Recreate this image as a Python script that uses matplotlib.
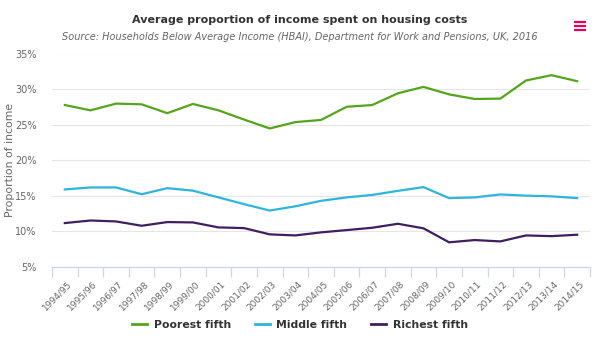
import matplotlib
matplotlib.use("Agg")
import matplotlib.pyplot as plt
from matplotlib.lines import Line2D
from matplotlib.transforms import offset_copy
import numpy as np

years = ["1994/95", "1995/96", "1996/97", "1997/98", "1998/99", "1999/00", "2000/01",
         "2001/02", "2002/03", "2003/04", "2004/05", "2005/06", "2006/07", "2007/08",
         "2008/09", "2009/10", "2010/11", "2011/12", "2012/13", "2013/14", "2014/15"]
poorest = [27.75, 27.0, 27.95, 27.85, 26.6, 27.9, 27.0, 25.7, 24.45, 25.35, 25.65,
           27.5, 27.75, 29.4, 30.3, 29.25, 28.6, 28.65, 31.2, 31.95, 31.1]
middle = [15.87, 16.15, 16.15, 15.2, 16.05, 15.7, 14.75, 13.8, 12.9, 13.5, 14.27,
          14.75, 15.1, 15.67, 16.2, 14.65, 14.75, 15.17, 15.0, 14.9, 14.65]
richest = [11.14, 11.5, 11.37, 10.76, 11.28, 11.23, 10.53, 10.43, 9.55, 9.4, 9.83,
           10.15, 10.48, 11.04, 10.4, 8.43, 8.75, 8.56, 9.4, 9.3, 9.5]
series_names = ["Poorest fifth", "Middle fifth", "Richest fifth"]
colors = ["#55a51c", "#2db5dc", "#3f1f5f"]
yticks = [5, 10, 15, 20, 25, 30, 35]

fig = plt.figure(figsize=(6, 3.39), dpi=100)
ax = fig.add_axes([52/600, 1 - 266.7/339, (590 - 52)/600, (266.7 - 53.5)/339])

x = np.arange(len(years))
for vals, c, name in zip([poorest, middle, richest], colors, series_names):
    ax.plot(x, vals, color=c, lw=1.6, label=name, solid_joinstyle="round")

ax.set_xlim(-0.5, len(years) - 0.5)
ax.set_ylim(5, 35)
ax.set_yticks(yticks)
ax.set_yticklabels([f"{v}%" for v in yticks], fontsize=7, color="#666666")
ax.tick_params(axis="y", length=0, pad=11)
ax.grid(axis="y", color="#e6e6e6", lw=0.8)
ax.set_axisbelow(True)

for s in ["top", "right", "left"]:
    ax.spines[s].set_visible(False)
ax.spines["bottom"].set_color("#ccd6eb")
ax.spines["bottom"].set_linewidth(0.9)

# tick marks at band edges
ax.set_xticks(np.arange(-0.5, len(years), 1.0), minor=True)
ax.tick_params(axis="x", which="minor", length=7, color="#ccd6eb", width=0.9)
ax.set_xticks(x)
ax.set_xticklabels([])
ax.tick_params(axis="x", which="major", length=0)

trans = offset_copy(ax.get_xaxis_transform(), fig=fig, x=1.5, y=-9, units="points")
for xi, lab in zip(x, years):
    ax.text(xi, 0, lab, transform=trans, rotation=45, ha="right", va="top",
            rotation_mode="anchor", fontsize=6.5, color="#666666")

ax.set_ylabel("Proportion of income", fontsize=7.8, color="#666666")
ax.yaxis.set_label_coords(-0.068, 0.5)

fig.text(0.5, 1 - 20/339, "Average proportion of income spent on housing costs",
         ha="center", va="center", fontsize=8, color="#333333", fontweight="bold")
fig.text(0.5, 1 - 37/339,
         "Source: Households Below Average Income (HBAI), Department for Work and Pensions, UK, 2016",
         ha="center", va="center", fontsize=7, color="#666666", style="italic")

# menu icon
for yy in [22, 26, 30]:
    fig.add_artist(Line2D([574/600, 586/600], [1 - yy/339, 1 - yy/339],
                          color="#e6005c", lw=1.6, solid_capstyle="butt"))

leg = fig.legend(loc="center", bbox_to_anchor=(0.5, 1 - 325/339), ncol=3, frameon=False,
                 fontsize=7.8, handlelength=1.4, columnspacing=2.2, handletextpad=0.6)
for t in leg.get_texts():
    t.set_color("#333333")
    t.set_fontweight("bold")
for h in leg.legend_handles:
    h.set_linewidth(2)

fig.savefig("out.png", dpi=100)
